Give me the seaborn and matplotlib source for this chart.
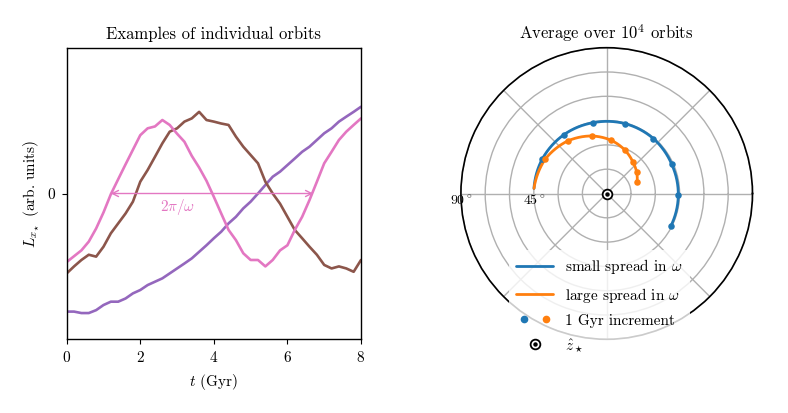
import numpy as np
import pandas as pd
import matplotlib
matplotlib.use("Agg")
import matplotlib.pyplot as plt
import seaborn as sns
from matplotlib.lines import Line2D
from matplotlib.legend_handler import HandlerTuple

# ---------------- data ----------------
t = [0.0, 0.2, 0.4, 0.6, 0.8, 1.0, 1.2, 1.4, 1.6, 1.8, 2.0, 2.2, 2.4, 2.6, 2.8,
     3.0, 3.2, 3.4, 3.6, 3.8, 4.0, 4.2, 4.4, 4.6, 4.8, 5.0, 5.2, 5.4, 5.6, 5.8,
     6.0, 6.2, 6.4, 6.6, 6.8, 7.0, 7.2, 7.4, 7.6, 7.8, 8.0]

L_pink = [-0.47, -0.43, -0.39, -0.33, -0.24, -0.13, -0.005, 0.098, 0.20, 0.30,
          0.40, 0.447, 0.46, 0.504, 0.47, 0.41, 0.355, 0.258, 0.178, 0.087,
          -0.023, -0.137, -0.25, -0.32, -0.41, -0.456, -0.456, -0.50, -0.456,
          -0.39, -0.355, -0.25, -0.16, -0.045, 0.08, 0.207, 0.286, 0.367, 0.424,
          0.47, 0.515]

L_brown = [-0.548, -0.50, -0.456, -0.42, -0.433, -0.365, -0.273, -0.205, -0.137,
           -0.056, 0.081, 0.161, 0.252, 0.344, 0.424, 0.447, 0.493, 0.515, 0.56,
           0.504, 0.493, 0.48, 0.47, 0.39, 0.321, 0.264, 0.207, 0.081, 0.0,
           -0.07, -0.16, -0.25, -0.307, -0.365, -0.42, -0.49, -0.514, -0.50,
           -0.514, -0.537, -0.456]

L_purple = [-0.81, -0.81, -0.82, -0.82, -0.80, -0.765, -0.742, -0.742, -0.72,
            -0.685, -0.662, -0.628, -0.605, -0.582, -0.548, -0.514, -0.48,
            -0.445, -0.40, -0.355, -0.307, -0.262, -0.205, -0.16, -0.102,
            -0.056, 0.0, 0.058, 0.115, 0.15, 0.195, 0.24, 0.286, 0.321, 0.367,
            0.413, 0.447, 0.493, 0.527, 0.56, 0.595]

# polar averages: angle (deg) and radius (deg), one point per Gyr (t = 0..8)
gyr = [0, 1, 2, 3, 4, 5, 6, 7, 8]
theta_small = [176, 151.5, 125.9, 100.6, 75.3, 49.7, 24.3, -1.3, -26.7]
r_small = [45.0, 45.1, 44.9, 44.5, 44.6, 44.5, 44.0, 44.2, 44.4]
theta_large = [176, 150.9, 126.5, 104.6, 85.4, 67.1, 50.9, 35.4, 20.5]
r_large = [45.0, 43.5, 40.4, 36.7, 33.0, 29.0, 25.4, 22.7, 20.0]

period_start, period_end = 1.2, 6.7
xticks = [0, 2, 4, 6, 8]
rticks = [15, 30, 45, 60, 75, 90]
rticklabels = ["", "", r"45$^\circ$", "", "", r"90$^\circ$"]

# ---------------- style ----------------
sns.set_theme(style="ticks")
plt.rcParams.update({
    "font.family": "serif",
    "font.serif": ["cmr10"],
    "mathtext.fontset": "cm",
    "axes.formatter.use_mathtext": True,
    "axes.unicode_minus": True,
    "font.size": 11,
    "axes.edgecolor": "black",
    "axes.linewidth": 1.0,
    "xtick.color": "black",
    "ytick.color": "black",
    "text.color": "black",
    "axes.labelcolor": "black",
})

PINK, BROWN, PURPLE = "#e377c2", "#8c564b", "#9467bd"
BLUE, ORANGE = "#1f77b4", "#ff7f0e"

fig = plt.figure(figsize=(7.88, 4.13), dpi=100)

# ---------------- left panel ----------------
ax1 = fig.add_axes([66.7 / 788, 1 - 339.3 / 413, 294.3 / 788, 291.6 / 413])
df = pd.DataFrame({
    "t": t * 3,
    "L": L_pink + L_brown + L_purple,
    "orbit": ["pink"] * len(t) + ["brown"] * len(t) + ["purple"] * len(t),
})
sns.lineplot(data=df, x="t", y="L", hue="orbit",
             palette={"pink": PINK, "brown": BROWN, "purple": PURPLE},
             hue_order=["purple", "brown", "pink"],
             estimator=None, sort=False, legend=False, lw=1.9, ax=ax1)
ax1.annotate("", xy=(period_start, 0), xytext=(period_end, 0),
             arrowprops=dict(arrowstyle="<->", color=PINK, lw=1.0,
                             shrinkA=0, shrinkB=0))
ax1.text(3.02, -0.09, r"$2\pi/\omega$", color=PINK, ha="center", va="center",
         fontsize=11)
ax1.set_xlim(0, 8)
ax1.set_ylim(-1, 1)
ax1.set_xticks(xticks)
ax1.set_yticks([0])
ax1.set_yticklabels(["0"])
ax1.tick_params(direction="out", length=3.5, width=0.8, labelsize=11, pad=4.5)
ax1.set_xlabel(r"$t$ (Gyr)", fontsize=11, labelpad=5)
ax1.set_ylabel(r"$L_{x_\star}$ (arb. units)", fontsize=11)
ax1.set_title("Examples of individual orbits", fontsize=12)
for s in ax1.spines.values():
    s.set_visible(True)
    s.set_color("black")

# ---------------- right panel (polar) ----------------
ax2 = fig.add_axes([460.7 / 788, 1 - 339.3 / 413, 292 / 788, 291.6 / 413],
                   projection="polar")
ax2.set_facecolor("white")
th_s = np.deg2rad(theta_small)
th_l = np.deg2rad(theta_large)
sns.lineplot(x=th_s, y=r_small, sort=False, estimator=None, color=BLUE,
             lw=2, ax=ax2)
sns.lineplot(x=th_l, y=r_large, sort=False, estimator=None, color=ORANGE,
             lw=2, ax=ax2)
# let matplotlib's polar transform draw the segments as curves
for ln in ax2.lines:
    ln.get_path()._interpolation_steps = 40
sns.scatterplot(x=th_s[1:], y=r_small[1:], color=BLUE, s=22, linewidth=0,
                ax=ax2, zorder=3)
sns.scatterplot(x=th_l[1:], y=r_large[1:], color=ORANGE, s=22, linewidth=0,
                ax=ax2, zorder=3)
ax2.plot([0], [0], marker="o", ms=7, mfc="white", mec="black", mew=1.3,
         ls="none", zorder=4)
ax2.plot([0], [0], marker="o", ms=2.2, color="black", ls="none", zorder=5)

ax2.set_ylim(0, 90)
ax2.set_yticks(rticks)
ax2.set_yticklabels([])
ax2.set_xticks(np.deg2rad([0, 45, 90, 135, 180, 225, 270, 315]))
ax2.set_xticklabels([])
ax2.grid(True, color="#b0b0b0", lw=1.0)
ax2.spines["polar"].set_color("black")
ax2.spines["polar"].set_linewidth(1.2)
for r, lab in zip(rticks, rticklabels):
    if lab:
        ax2.text(np.pi, r, lab, ha="center", va="top", fontsize=10,
                 transform=ax2.transData)
ax2.set_title(r"Average over $10^4$ orbits", fontsize=12, pad=6)

h_small = Line2D([], [], color=BLUE, lw=2)
h_large = Line2D([], [], color=ORANGE, lw=2)
h_db = Line2D([], [], color=BLUE, marker="o", ms=4.5, ls="none")
h_do = Line2D([], [], color=ORANGE, marker="o", ms=4.5, ls="none")
h_ring = Line2D([], [], marker="o", ms=7, mfc="white", mec="black", mew=1.3,
                ls="none")
h_dot = Line2D([], [], marker="o", ms=2.2, color="black", ls="none")
dots = (h_db, h_do)
zhat = (h_ring, h_dot)
leg = ax2.legend([h_small, h_large, dots, zhat],
                 [r"small spread in $\omega$", r"large spread in $\omega$",
                  "1 Gyr increment", r"$\hat{z}_\star$"],
                 handler_map={dots: HandlerTuple(ndivide=None),
                              zhat: HandlerTuple(ndivide=1)},
                 loc="center", bbox_to_anchor=(599.5 / 788, 1 - 306 / 413),
                 bbox_transform=fig.transFigure, fontsize=11,
                 handlelength=2.4, handletextpad=0.8, labelspacing=0.6,
                 frameon=True, framealpha=0.8, facecolor="white",
                 edgecolor="none", borderpad=0.5)
fig.savefig("out.png", dpi=100)
